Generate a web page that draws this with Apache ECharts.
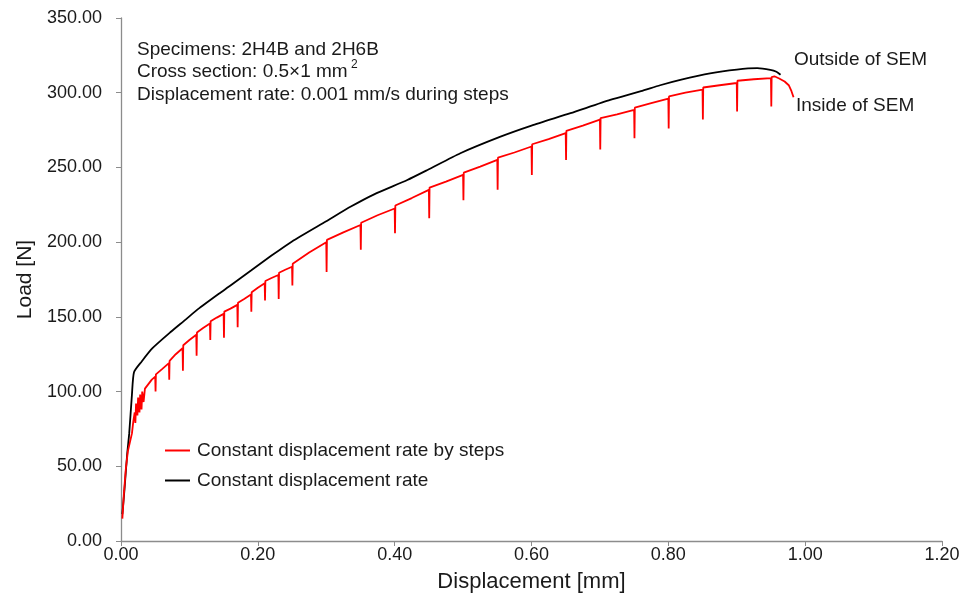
<!DOCTYPE html>
<html>
<head>
<meta charset="utf-8">
<script src="https://cdn.jsdelivr.net/npm/echarts@6/dist/echarts.min.js"></script>
<style>
html,body{margin:0;padding:0;background:#fff;}
#chart{width:968px;height:599px;}
</style>
</head>
<body>
<div id="chart"></div>
<script>
// ---- data ----
var xTicks = [0.0, 0.2, 0.4, 0.6, 0.8, 1.0, 1.2];
var yTicks = [0, 50, 100, 150, 200, 250, 300, 350];

var seriesNames = ['Constant displacement rate by steps', 'Constant displacement rate'];

// Red: constant displacement rate by steps (inside SEM)
var redDisp = [
  0.002,0.004,0.007,0.010,0.013,0.016,0.018,0.020,0.021,0.022,0.024,0.025,0.027,0.028,0.030,0.031,0.033,0.035,0.040,0.045,
  0.050,0.0505,0.051,
  0.060,0.070,0.0705,0.071,
  0.080,0.090,0.0905,0.091,
  0.100,0.110,0.1105,0.111,
  0.120,0.130,0.1305,0.131,
  0.140,0.150,0.1505,0.151,
  0.160,0.170,0.1705,0.171,
  0.180,0.190,0.1905,0.191,
  0.200,0.210,0.2105,0.211,
  0.220,0.230,0.2305,0.231,
  0.240,0.250,0.2505,0.251,
  0.275,0.300,0.3005,0.301,
  0.325,0.350,0.3505,0.351,
  0.375,0.400,0.4005,0.401,
  0.425,0.450,0.4505,0.451,
  0.475,0.500,0.5005,0.501,
  0.525,0.550,0.5505,0.551,
  0.575,0.600,0.6005,0.601,
  0.625,0.650,0.6505,0.651,
  0.675,0.700,0.7005,0.701,
  0.725,0.750,0.7505,0.751,
  0.775,0.800,0.8005,0.801,
  0.825,0.850,0.8505,0.851,
  0.875,0.900,0.9005,0.901,
  0.925,0.950,0.9505,0.951,
  0.955,0.962,0.970,0.976,0.980,0.983
];
var redLoad = [
  15,30,48,60,66,72,80,86,79,92,84,96,86,98,88,100,93,102,105,108,
  110,100,111.5,
  115,119,108,120.5,
  125,129,114,131,
  134.5,138,124,139.5,
  142.5,145.5,134.5,147,
  149.5,152,136,153.5,
  155.5,158,143,159.5,
  162,165,153.5,166.5,
  169.5,172.5,161,174,
  176,178,162,179.5,
  181.5,183.5,171,185.5,
  193,200,180,201.5,
  206.5,211.5,195,213,
  218,222.5,206,224.5,
  229.5,235,216,236.5,
  240.5,245,228,246.5,
  250.5,255,235,256.5,
  260,264,245,265.5,
  269,273,255,274.5,
  278,282,262,283,
  285.5,288.5,269.5,290,
  293,296,276,297.5,
  300,302,282,303.5,
  305,306.5,287.5,308,
  309,309.7,290.7,310.5,
  311,309.5,307.5,305,301,297
];

// Black: constant displacement rate (outside SEM)
var blackDisp = [0.002,0.005,0.009,0.012,0.016,0.019,0.030,0.046,0.073,0.094,0.112,0.143,0.160,0.190,0.220,0.250,0.300,0.336,0.370,0.4185,0.448,0.496,0.5547,0.600,0.657,0.715,0.760,0.788,0.8175,0.861,0.900,0.930,0.949,0.958,0.964];
var blackLoad = [18,34,58,72,98,113,120,129,140,148,155,165.5,171,181,191,200.5,214,223.8,232,241.6,248.3,259.5,270.6,278,286.3,295.2,301,305,308.6,313,315.5,316.4,315.3,314,312];

var annotLines = ['Specimens: 2H4B and 2H6B', 'Cross section: 0.5\u00d71 mm', 'Displacement rate: 0.001 mm/s during steps'];
var superscript = '2';
var labelOutside = 'Outside of SEM';
var labelInside = 'Inside of SEM';

function pairs(xs, ys){ var o=[]; for(var i=0;i<xs.length;i++){ o.push([xs[i], ys[i]]); } return o; }

var FONT = '"Liberation Sans", Arial, sans-serif';
var TXT = '#1a1a1a';
var AX = '#8c8c8c';

function txt(x, y, s, size){
  return {type: 'text', x: x, y: y, z: 10, style: {text: s, font: size + 'px ' + FONT, fill: TXT, textAlign: 'left', textVerticalAlign: 'middle'}};
}

var chart = echarts.init(document.getElementById('chart'));
chart.setOption({
  animation: false,
  backgroundColor: '#fff',
  grid: {left: 121, top: 18, right: 26, bottom: 58, containLabel: false},
  xAxis: {
    type: 'value', min: xTicks[0], max: xTicks[xTicks.length-1], interval: 0.2,
    name: 'Displacement [mm]', nameLocation: 'middle', nameGap: 30,
    nameTextStyle: {fontFamily: FONT, fontSize: 22, color: TXT},
    axisLine: {show: true, lineStyle: {color: AX, width: 1.3}},
    axisTick: {show: true, length: 5, lineStyle: {color: AX}},
    axisLabel: {fontFamily: FONT, fontSize: 18, color: TXT, margin: 5, formatter: function(v){return v.toFixed(2);}},
    splitLine: {show: false}
  },
  yAxis: {
    type: 'value', min: yTicks[0], max: yTicks[yTicks.length-1], interval: 50,
    name: 'Load [N]', nameLocation: 'middle', nameGap: 85, nameRotate: 90,
    nameTextStyle: {fontFamily: FONT, fontSize: 21, color: TXT},
    axisLine: {show: true, lineStyle: {color: AX, width: 1.3}},
    axisTick: {show: true, length: 5, lineStyle: {color: AX}},
    axisLabel: {fontFamily: FONT, fontSize: 18, color: TXT, margin: 19, formatter: function(v){return v.toFixed(2);}},
    splitLine: {show: false}
  },
  legend: {
    orient: 'vertical', left: 160, top: 436, itemWidth: 25, itemHeight: 2, itemGap: 11,
    icon: 'rect',
    textStyle: {fontFamily: FONT, fontSize: 19, color: TXT, padding: [0,0,0,2]},
    data: seriesNames
  },
  series: [
    {name: seriesNames[0], type: 'line', data: pairs(redDisp, redLoad), symbol: 'none', lineStyle: {color: '#ff0000', width: 1.8}, itemStyle: {color: '#ff0000'}, z: 3},
    {name: seriesNames[1], type: 'line', data: pairs(blackDisp, blackLoad), symbol: 'none', smooth: 0.2, lineStyle: {color: '#000000', width: 1.8}, itemStyle: {color: '#000000'}, z: 2}
  ],
  graphic: [
    txt(137, 50, annotLines[0], 19),
    txt(137, 72, annotLines[1], 19),
    txt(351, 65, superscript, 12),
    txt(137, 95, annotLines[2], 19),
    txt(794, 60, labelOutside, 19),
    txt(796, 106, labelInside, 19)
  ]
});
</script>
</body>
</html>
